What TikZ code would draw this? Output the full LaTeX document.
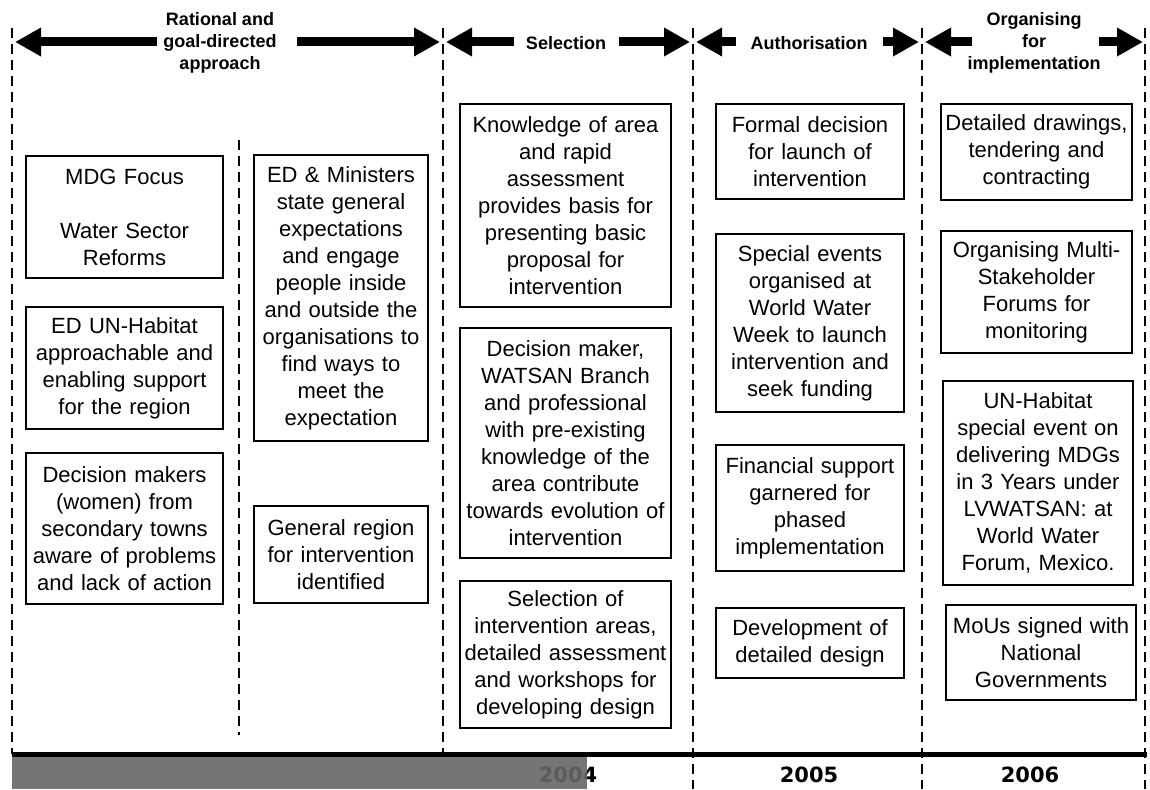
\documentclass[tikz,border=0pt]{standalone}
\usepackage{fontspec}
\setmainfont{Liberation Sans}
\newfontfamily\yearfont{DejaVu Sans}
\usetikzlibrary{arrows.meta}

\newcommand{\boxfont}{\fontsize{22}{27}\selectfont}
\newcommand{\hdrfont}{\fontsize{18}{22}\selectfont\bfseries}

\tikzset{
  stagebox/.style={draw, line width=1.8pt, inner sep=0pt, align=center, font=\boxfont},
  hdrlab/.style={inner sep=0pt, align=center, font=\hdrfont},
  hdrarrow/.style={line width=9pt, line cap=butt, -{Triangle[length=26pt,width=27pt]}},
  divider/.style={line width=2.6pt, dash pattern=on 10pt off 6pt},
  yearlab/.style={inner sep=0pt, font=\fontsize{21}{25}\selectfont\yearfont\bfseries},
}

\begin{document}
\begin{tikzpicture}[x=1pt,y=-1pt]
\useasboundingbox (0,0) rectangle (1150,789);

% column dividers
\draw[divider] (12,28) -- (12,754);
\draw[divider] (443,28) -- (443,754);
\draw[divider] (693,28) -- (693,789);
\draw[divider] (922,28) -- (922,789);
\draw[divider] (1145,28) -- (1145,789);
\draw[divider] (239,140) -- (239,735);

% stage headings
\node[hdrlab] (h1) at (220,43) {Rational and\\goal-directed\\approach};
\node[hdrlab] (h2) at (566,43) {Selection};
\node[hdrlab] (h3) at (809,43) {Authorisation};
\node[hdrlab] (h4) at (1034,43) {Organising\\for\\implementation};

\coordinate (h1a) at (157,42); \coordinate (h1t) at (15,42);
\coordinate (h1b) at (297,42); \coordinate (h1u) at (440,42);
\coordinate (h2a) at (514,42); \coordinate (h2t) at (446,42);
\coordinate (h2b) at (619,42); \coordinate (h2u) at (690,42);
\coordinate (h3a) at (736,42); \coordinate (h3t) at (696,42);
\coordinate (h3b) at (883,42); \coordinate (h3u) at (919,42);
\coordinate (h4a) at (972,42); \coordinate (h4t) at (925,42);
\coordinate (h4b) at (1099,42); \coordinate (h4u) at (1143,42);
\draw[hdrarrow] (h1a) -- (h1t);
\draw[hdrarrow] (h1b) -- (h1u);
\draw[hdrarrow] (h2a) -- (h2t);
\draw[hdrarrow] (h2b) -- (h2u);
\draw[hdrarrow] (h3a) -- (h3t);
\draw[hdrarrow] (h3b) -- (h3u);
\draw[hdrarrow] (h4a) -- (h4t);
\draw[hdrarrow] (h4b) -- (h4u);

% rational and goal-directed approach
\node[stagebox, minimum width=197pt, minimum height=122pt, text width=193pt] (a) at (124.5,217)
  {MDG Focus\\[27pt]Water Sector\\Reforms};
\node[stagebox, minimum width=197pt, minimum height=122pt, text width=193pt] (b) at (124.5,368)
  {ED UN-Habitat\\approachable and\\enabling support\\for the region};
\node[stagebox, minimum width=197pt, minimum height=151pt, text width=193pt] (c) at (124.5,528.5)
  {Decision makers\\(women) from\\secondary towns\\aware of problems\\and lack of action};
\node[stagebox, minimum width=174pt, minimum height=286pt, text width=170pt] (d) at (341,298)
  {ED \& Ministers\\state general\\expectations\\and engage\\people inside\\and outside the\\organisations to\\find ways to\\meet the\\expectation};
\node[stagebox, minimum width=174pt, minimum height=97pt, text width=170pt] (e) at (341,554.5)
  {General region\\for intervention\\identified};

% selection
\node[stagebox, minimum width=211pt, minimum height=203pt, text width=207pt] (f) at (565.5,205.5)
  {Knowledge of area\\and rapid\\assessment\\provides basis for\\presenting basic\\proposal for\\intervention};
\node[stagebox, minimum width=211pt, minimum height=230pt, text width=207pt] (g) at (565.5,443)
  {Decision maker,\\WATSAN Branch\\and professional\\with pre-existing\\knowledge of the\\area contribute\\towards evolution of\\intervention};
\node[stagebox, minimum width=211pt, minimum height=147pt, text width=207pt] (h) at (565.5,654.5)
  {Selection of\\intervention areas,\\detailed assessment\\and workshops for\\developing design};

% authorisation
\node[stagebox, minimum width=188pt, minimum height=95pt, text width=184pt] (i) at (810,151.5)
  {Formal decision\\for launch of\\intervention};
\node[stagebox, minimum width=188pt, minimum height=178pt, text width=184pt] (j) at (810,323)
  {Special events\\organised at\\World Water\\Week to launch\\intervention and\\seek funding};
\node[stagebox, minimum width=188pt, minimum height=126pt, text width=184pt] (k) at (810,508)
  {Financial support\\garnered for\\phased\\implementation};
\node[stagebox, minimum width=188pt, minimum height=70pt, text width=184pt] (l) at (810,643)
  {Development of\\detailed design};

% organising for implementation
\node[stagebox, minimum width=191pt, minimum height=96pt, text width=187pt] (m) at (1036.5,152)
  {Detailed drawings,\\tendering and\\contracting};
\node[stagebox, minimum width=191pt, minimum height=122pt, text width=187pt] (n) at (1036.5,292)
  {Organising Multi-\\Stakeholder\\Forums for\\monitoring};
\node[stagebox, minimum width=190pt, minimum height=204pt, text width=186pt] (o) at (1038,483)
  {UN-Habitat\\special event on\\delivering MDGs\\in 3 Years under\\LVWATSAN: at\\World Water\\Forum, Mexico.};
\node[stagebox, minimum width=190pt, minimum height=95pt, text width=186pt] (p) at (1041,652.5)
  {MoUs signed with\\National\\Governments};

% time line
\node[yearlab] (y4) at (568,775) {2004};
\node[yearlab] (y5) at (809,775) {2005};
\node[yearlab] (y6) at (1030,775) {2006};
\fill[black!60, fill opacity=0.9] (12,756) rectangle (587,789);
\draw[line width=5pt] (12,754) -- (1147,754);
\end{tikzpicture}
\end{document}
